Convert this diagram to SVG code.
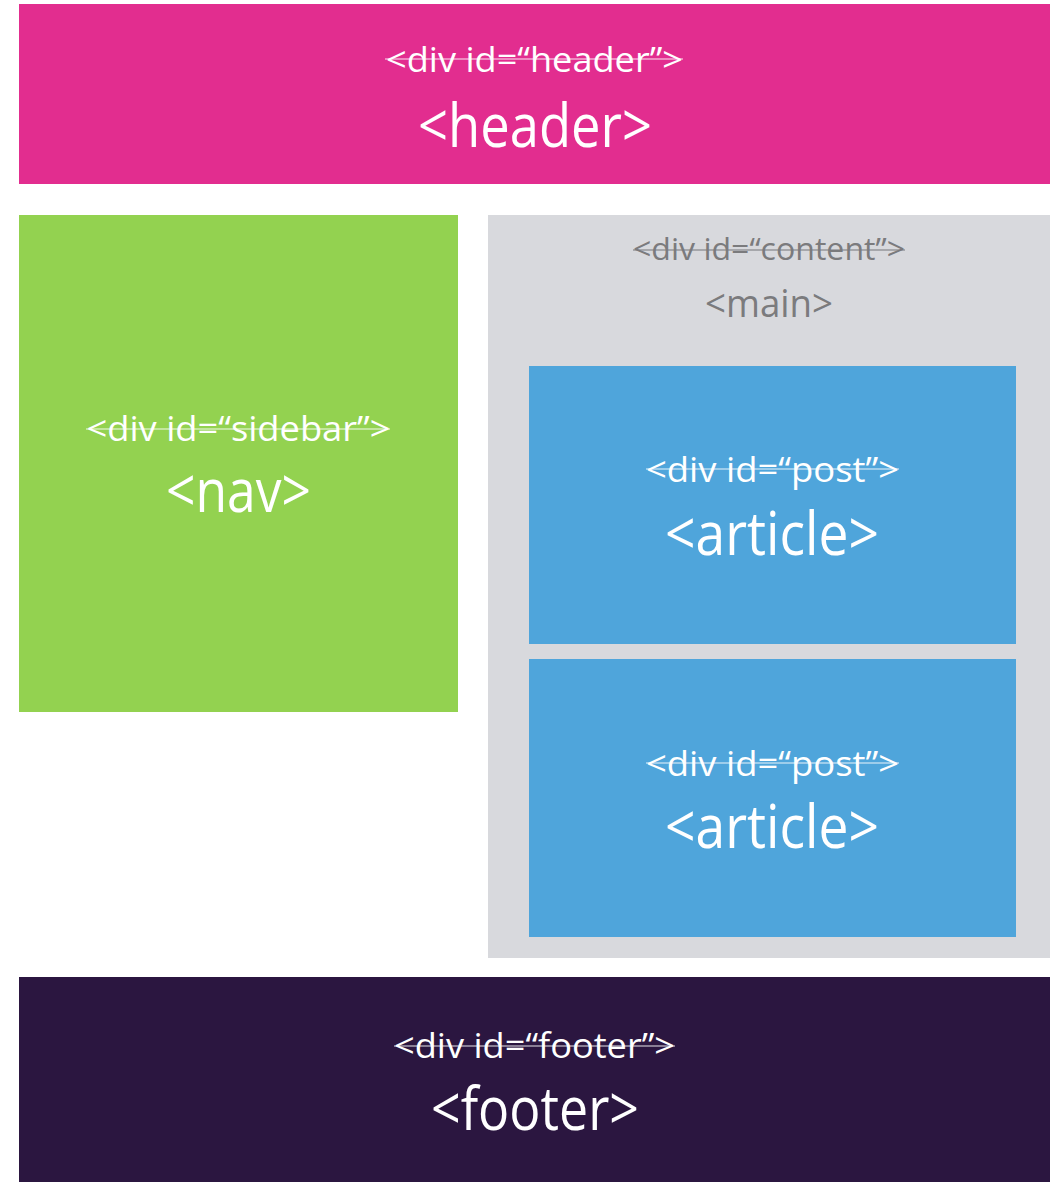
<svg xmlns="http://www.w3.org/2000/svg" width="1061" height="1182" viewBox="0 0 1061 1182">
  <style>
    text { font-family: "Open Sans", "Noto Sans", sans-serif; text-anchor: middle; }
    .old { font-size: 34px; fill: #ffffff; }
    .new { font-size: 60px; fill: #ffffff; }
    .oldg { font-size: 31px; fill: #7b7b7d; }
    .newg { font-size: 39px; fill: #7b7b7d; }
    .strike { stroke: #ffffff; stroke-opacity: 0.6; stroke-width: 1.6; }
    .strikeg { stroke: #7b7b7d; stroke-opacity: 0.7; stroke-width: 1.6; }
  </style>
  <rect width="1061" height="1182" fill="#ffffff"/>
  <g id="header">
    <rect x="19" y="4" width="1031" height="180" fill="#e22d8f"/>
    <text class="old" x="534.5" y="72" textLength="297" lengthAdjust="spacingAndGlyphs">&lt;div id=“header”&gt;</text>
    <line class="strike" x1="385" y1="59" x2="683" y2="59"/>
    <text class="new" x="535" y="147" textLength="234" lengthAdjust="spacingAndGlyphs">&lt;header&gt;</text>
  </g>
  <g id="sidebar">
    <rect x="19" y="215" width="439" height="497" fill="#93d250"/>
    <text class="old" x="238.5" y="441" textLength="304" lengthAdjust="spacingAndGlyphs">&lt;div id=“sidebar”&gt;</text>
    <line class="strike" x1="86" y1="429" x2="390" y2="429"/>
    <text class="new" x="238.5" y="512" textLength="145" lengthAdjust="spacingAndGlyphs">&lt;nav&gt;</text>
  </g>
  <g id="content">
    <rect x="488" y="215" width="562" height="743" fill="#d8d9dd"/>
    <text class="oldg" x="769" y="260" textLength="272" lengthAdjust="spacingAndGlyphs">&lt;div id=“content”&gt;</text>
    <line class="strikeg" x1="633" y1="250" x2="905" y2="250"/>
    <text class="newg" x="769" y="317" textLength="128" lengthAdjust="spacingAndGlyphs">&lt;main&gt;</text>
  </g>
  <g id="post1">
    <rect x="529" y="366" width="487" height="278" fill="#4fa5db"/>
    <text class="old" x="772.5" y="482" textLength="253" lengthAdjust="spacingAndGlyphs">&lt;div id=“post”&gt;</text>
    <line class="strike" x1="646" y1="469" x2="899" y2="469"/>
    <text class="new" x="772" y="555" textLength="214" lengthAdjust="spacingAndGlyphs">&lt;article&gt;</text>
  </g>
  <g id="post2">
    <rect x="529" y="659" width="487" height="278" fill="#4fa5db"/>
    <text class="old" x="772.5" y="776" textLength="253" lengthAdjust="spacingAndGlyphs">&lt;div id=“post”&gt;</text>
    <line class="strike" x1="646" y1="763" x2="899" y2="763"/>
    <text class="new" x="772" y="848" textLength="214" lengthAdjust="spacingAndGlyphs">&lt;article&gt;</text>
  </g>
  <g id="footer">
    <rect x="19" y="977" width="1031" height="205" fill="#2b1640"/>
    <text class="old" x="534.5" y="1058" textLength="281" lengthAdjust="spacingAndGlyphs">&lt;div id=“footer”&gt;</text>
    <line class="strike" x1="394" y1="1046" x2="675" y2="1046"/>
    <text class="new" x="535" y="1130" textLength="208" lengthAdjust="spacingAndGlyphs">&lt;footer&gt;</text>
  </g>
  <g id="connectors"/>
</svg>
